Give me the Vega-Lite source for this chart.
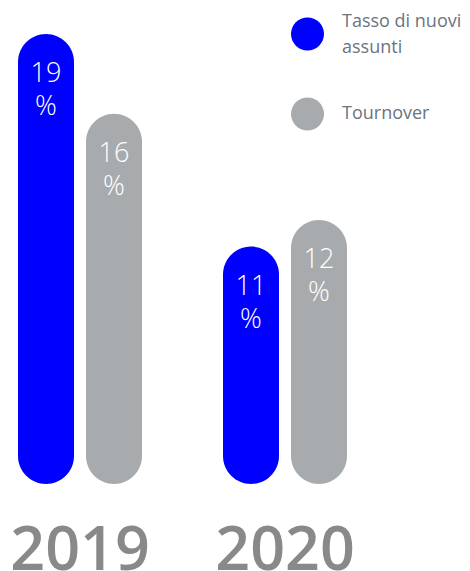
{
  "$schema": "https://vega.github.io/schema/vega-lite/v6.json",
  "width": 470,
  "height": 484,
  "autosize": {"type": "none"},
  "padding": {"top": 0, "left": 0, "right": 0, "bottom": 87},
  "config": {"view": {"stroke": null}, "font": "Open Sans"},
  "data": {
    "values": [
      {"anno": "2019", "serie": "Tasso di nuovi assunti", "valore": 19},
      {"anno": "2019", "serie": "Tournover", "valore": 16},
      {"anno": "2020", "serie": "Tasso di nuovi assunti", "valore": 11},
      {"anno": "2020", "serie": "Tournover", "valore": 12}
    ]
  },
  "encoding": {
    "x": {
      "field": "anno",
      "type": "nominal",
      "scale": {"range": [-22.5, 387.5], "paddingInner": 0, "paddingOuter": 0},
      "axis": {
        "title": null,
        "domain": false,
        "ticks": false,
        "grid": false,
        "labelAngle": 0,
        "labelFont": "Open Sans",
        "labelFontSize": 61,
        "labelFontWeight": 600,
        "labelColor": "#898989",
        "labelBaseline": "alphabetic",
        "labelPadding": 85,
        "encode": {"labels": {"update": {"dy": [{"test": "datum.label == '2020'", "value": -2}, {"value": 2}]}}}
      }
    },
    "xOffset": {
      "field": "serie",
      "type": "nominal",
      "scale": {
        "domain": ["Tasso di nuovi assunti", "Tournover"],
        "range": [40.5, 164.5],
        "paddingInner": 0.1765,
        "paddingOuter": 0
      }
    },
    "y": {
      "field": "valore",
      "type": "quantitative",
      "scale": {"domain": [2.06, 20.28], "zero": false, "nice": false},
      "axis": null
    }
  },
  "layer": [
    {
      "mark": {"type": "bar", "cornerRadius": 28, "width": 56},
      "encoding": {
        "y2": {"datum": 2.06},
        "color": {
          "field": "serie",
          "type": "nominal",
          "scale": {
            "domain": ["Tasso di nuovi assunti", "Tournover"],
            "range": ["#0000ff", "#a7abae"]
          },
          "legend": {
            "orient": "none",
            "legendX": 291,
            "legendY": 17.5,
            "title": null,
            "padding": 0,
            "symbolType": "circle",
            "symbolSize": 1089,
            "symbolStrokeWidth": 0,
            "symbolOpacity": 1,
            "labelFont": "Open Sans",
            "labelFontSize": 18,
            "labelColor": "#6b7480",
            "labelOffset": 18,
            "labelLimit": 300,
            "rowPadding": 40,
            "labelExpr": "datum.label == 'Tasso di nuovi assunti' ? ['Tasso di nuovi', 'assunti'] : datum.label",
            "encode": {
              "labels": {
                "update": {
                  "lineHeight": {"value": 26},
                  "dy": [{"test": "datum.label == 'Tasso di nuovi assunti'", "value": -12}, {"value": 0}]
                }
              }
            }
          }
        }
      }
    },
    {
      "mark": {"type": "text", "dy": 48, "baseline": "alphabetic", "fontSize": 27, "fontWeight": 300, "color": "#ffffff", "font": "Open Sans"},
      "encoding": {"text": {"field": "valore", "type": "quantitative"}}
    },
    {
      "mark": {"type": "text", "dy": 81, "baseline": "alphabetic", "fontSize": 27, "fontWeight": 300, "color": "#ffffff", "font": "Open Sans"},
      "encoding": {"text": {"value": "%"}}
    }
  ]
}
